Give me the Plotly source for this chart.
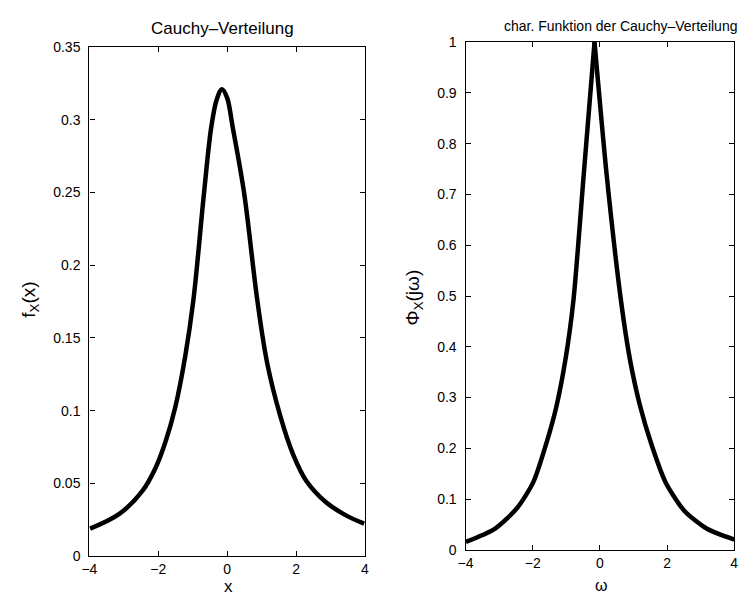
import plotly.graph_objects as go

# Left panel: Cauchy density
x_pdf = [-3.98, -3.13, -2.46, -2.08, -1.79, -1.51, -1.22, -0.98, -0.67, -0.46, -0.30, -0.15,
         0.0, 0.16, 0.49, 0.875, 1.16, 1.54, 1.92, 2.30, 2.87, 3.45, 3.98]
f_pdf = [0.0189, 0.029, 0.0448, 0.0606, 0.0786, 0.102, 0.137, 0.176, 0.25, 0.295, 0.314, 0.321,
         0.315, 0.295, 0.25, 0.176, 0.133, 0.0966, 0.0696, 0.0516, 0.037, 0.028, 0.0223]

# Right panel: characteristic function, left and right branch (meeting at the peak)
w_left = [-3.99, -3.13, -2.46, -1.98, -1.59, -1.30, -1.02, -0.79, -0.48, -0.16]
phi_left = [0.016, 0.0416, 0.083, 0.134, 0.211, 0.281, 0.377, 0.49, 0.74, 1.0]
w_right = [-0.16, 0.20, 0.63, 0.89, 1.18, 1.52, 1.95, 2.52, 3.19, 4.0]
phi_right = [1.0, 0.74, 0.49, 0.377, 0.288, 0.211, 0.134, 0.0767, 0.0416, 0.0205]

x_ticks = [-4, -2, 0, 2, 4]
x_labels = ["\u22124", "\u22122", "0", "2", "4"]
y1_ticks = [0, 0.05, 0.1, 0.15, 0.2, 0.25, 0.3, 0.35]
y1_labels = ["0", "0.05", "0.1", "0.15", "0.2", "0.25", "0.3", "0.35"]
y2_ticks = [0, 0.1, 0.2, 0.3, 0.4, 0.5, 0.6, 0.7, 0.8, 0.9, 1.0]
y2_labels = ["0", "0.1", "0.2", "0.3", "0.4", "0.5", "0.6", "0.7", "0.8", "0.9", "1"]

FONT = "Liberation Sans, Arial, sans-serif"
W, H = 751, 604


def px(x):
    return x / W


def py(y):
    return 1 - y / H


line = dict(color="black", width=4.5)

fig = go.Figure()
fig.add_trace(go.Scatter(x=x_pdf, y=f_pdf, mode="lines", line=dict(**line, shape="spline", smoothing=1.0),
                         xaxis="x", yaxis="y", showlegend=False, hoverinfo="skip"))
fig.add_trace(go.Scatter(x=w_left, y=phi_left, mode="lines", line=dict(**line, shape="spline", smoothing=0.7),
                         xaxis="x2", yaxis="y2", showlegend=False, hoverinfo="skip"))
fig.add_trace(go.Scatter(x=w_right, y=phi_right, mode="lines", line=dict(**line, shape="spline", smoothing=0.7),
                         xaxis="x2", yaxis="y2", showlegend=False, hoverinfo="skip"))

ax_common = dict(showgrid=False, zeroline=False, showline=True, linecolor="black", linewidth=1.3,
                 mirror="ticks", ticks="inside", ticklen=5, tickcolor="black",
                 ticklabeloverflow="allow",
                 tickfont=dict(family=FONT, size=14, color="black"))

fig.update_layout(
    width=W, height=H,
    margin=dict(l=0, r=0, t=0, b=0),
    paper_bgcolor="white", plot_bgcolor="white",
    font=dict(family=FONT, color="black"),
    xaxis=dict(domain=[px(82.7), px(362.7)], range=[-4, 4], tickvals=x_ticks, ticktext=x_labels,
               anchor="y", ticklabelstandoff=0, **ax_common),
    yaxis=dict(domain=[py(563), py(40)], range=[0, 0.35], tickvals=y1_ticks, ticktext=y1_labels,
               anchor="x", ticklabelstandoff=5, **ax_common),
    xaxis2=dict(domain=[px(465), px(738)], range=[-4, 4], tickvals=x_ticks, ticktext=x_labels,
                anchor="y2", ticklabelstandoff=0, **ax_common),
    yaxis2=dict(domain=[py(556.7), py(35)], range=[0, 1], tickvals=y2_ticks, ticktext=y2_labels,
                anchor="x2", ticklabelstandoff=5, **ax_common),
    annotations=[
        dict(text="Cauchy\u2013Verteilung", x=px(218), y=py(21), xref="paper", yref="paper",
             showarrow=False, font=dict(family=FONT, size=17), xanchor="center", yanchor="middle"),
        dict(text="char. Funktion der Cauchy\u2013Verteilung", x=px(622), y=py(18),
             xref="paper", yref="paper", showarrow=False, font=dict(family=FONT, size=14),
             xanchor="center", yanchor="middle"),
        dict(text="f<sub>X</sub>(x)", x=px(22), y=py(300), xref="paper", yref="paper",
             showarrow=False, textangle=-90, font=dict(family=FONT, size=19),
             xanchor="center", yanchor="middle"),
        dict(text="x", x=px(224), y=py(594), xref="paper", yref="paper",
             showarrow=False, font=dict(family=FONT, size=17), xanchor="center", yanchor="middle"),
        dict(text="\u03a6<sub>X</sub>(j\u03c9)", x=px(413), y=py(297), xref="paper", yref="paper",
             showarrow=False, textangle=-90, font=dict(family=FONT, size=19),
             xanchor="center", yanchor="middle"),
        dict(text="\u03c9", x=px(603), y=py(593), xref="paper", yref="paper",
             showarrow=False, font=dict(family=FONT, size=16), xanchor="center", yanchor="middle"),
    ],
)

# remove the browser's default page margin so the figure fills the window exactly
fig.write_html("out.html", config={"displayModeBar": False},
               post_script="document.body.style.margin='0';document.body.style.overflow='hidden';")
